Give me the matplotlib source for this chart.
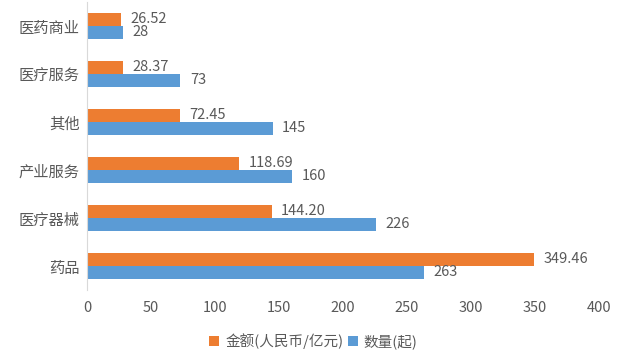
import matplotlib
matplotlib.use("Agg")
import matplotlib.pyplot as plt
import numpy as np

plt.rcParams['font.family'] = ['Noto Sans CJK SC', 'DejaVu Sans']

categories = ['医药商业', '医疗服务', '其他', '产业服务', '医疗器械', '药品']
amount = [26.52, 28.37, 72.45, 118.69, 144.20, 349.46]
count = [28, 73, 145, 160, 226, 263]
amount_labels = ['26.52', '28.37', '72.45', '118.69', '144.20', '349.46']
count_labels = ['28', '73', '145', '160', '226', '263']
xticks = [0, 50, 100, 150, 200, 250, 300, 350, 400]

orange = '#ED7D31'
blue = '#5B9BD5'
txt = '#595959'

fig = plt.figure(figsize=(6.27, 3.58), dpi=100)
ax = fig.add_axes([87/627, 1 - 290/358, 512/627, 288/358])

y = np.arange(len(categories))
h = 0.27
b1 = ax.barh(y - h/2, amount, height=h, color=orange, label='金额(人民币/亿元)')
b2 = ax.barh(y + h/2, count, height=h, color=blue, label='数量(起)')

for rect, lab in zip(b1, amount_labels):
    ax.text(rect.get_width() + 7.5, rect.get_y() + rect.get_height()/2 - 0.02, lab,
            va='center', ha='left', fontsize=10.5, color=txt)
for rect, lab in zip(b2, count_labels):
    ax.text(rect.get_width() + 7.5, rect.get_y() + rect.get_height()/2, lab,
            va='center', ha='left', fontsize=10.5, color=txt)

ax.set_ylim(len(categories) - 0.5, -0.5)
ax.set_xlim(0, 400)
ax.set_yticks(y)
ax.set_yticklabels(categories, fontsize=11, color=txt)
ax.set_xticks(xticks)
ax.set_xticklabels([str(t) for t in xticks], fontsize=10.5, color=txt)
ax.tick_params(axis='both', length=0)
ax.tick_params(axis='y', pad=5.5)
ax.tick_params(axis='x', pad=8)
for s in ['top', 'right', 'bottom']:
    ax.spines[s].set_visible(False)
ax.spines['left'].set_color('#D9D9D9')

leg = fig.legend(handles=[b1, b2], loc='center', bbox_to_anchor=(0.5, 1 - 341/358),
                 ncol=2, frameon=False, fontsize=10.5, handlelength=0.7, handleheight=0.7,
                 handletextpad=0.4, columnspacing=0.3)
for t in leg.get_texts():
    t.set_color(txt)

fig.savefig('out.png', dpi=100)
